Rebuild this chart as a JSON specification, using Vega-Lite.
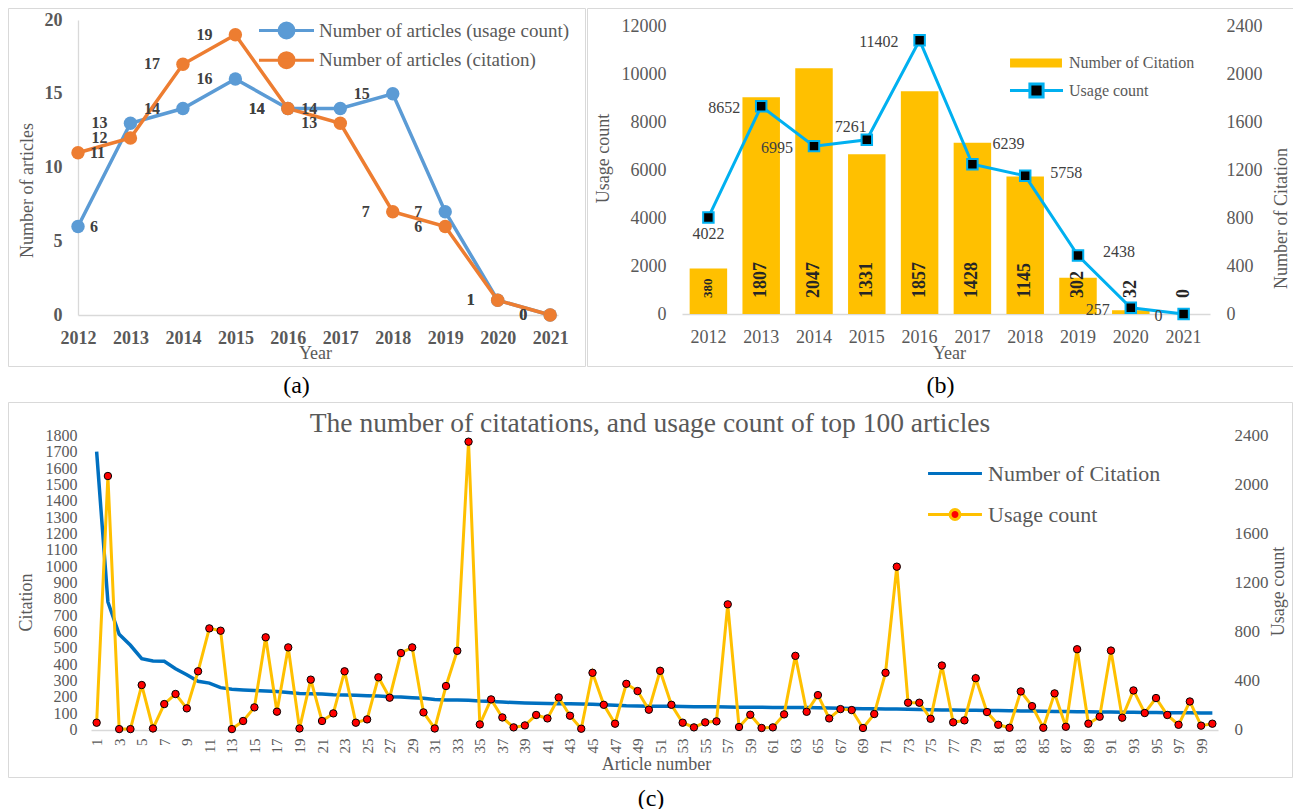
{
 "$schema": "https://vega.github.io/schema/vega-lite/v6.json",
 "padding": {"left": 7, "top": 7, "right": 0, "bottom": 0},
 "title": {"text": "(c)", "orient": "bottom", "anchor": "middle", "offset": 9, "baseline": "top", "fontSize": 24, "fontWeight": "normal", "color": "#000000", "font": "Liberation Serif"},
 "spacing": 2,
 "resolve": {"scale": {"color": "independent", "stroke": "independent", "fill": "independent"}, "legend": {"color": "independent", "stroke": "independent", "fill": "independent"}},
 "vconcat": [
  {
   "spacing": 0,
   "resolve": {"scale": {"color": "independent", "stroke": "independent", "fill": "independent"}, "legend": {"color": "independent", "stroke": "independent", "fill": "independent"}},
   "hconcat": [
    {
     "width": 577, "height": 358,
     "title": {"text": "(a)", "orient": "bottom", "frame": "group", "anchor": "middle", "offset": 8, "baseline": "top", "fontSize": 24, "fontWeight": "normal", "color": "#000000"},
     "data": {"values": [
      {"year": 2012, "series": "Number of articles (usage count)", "count": 6},
      {"year": 2013, "series": "Number of articles (usage count)", "count": 13},
      {"year": 2014, "series": "Number of articles (usage count)", "count": 14},
      {"year": 2015, "series": "Number of articles (usage count)", "count": 16},
      {"year": 2016, "series": "Number of articles (usage count)", "count": 14},
      {"year": 2017, "series": "Number of articles (usage count)", "count": 14},
      {"year": 2018, "series": "Number of articles (usage count)", "count": 15},
      {"year": 2019, "series": "Number of articles (usage count)", "count": 7},
      {"year": 2020, "series": "Number of articles (usage count)", "count": 1},
      {"year": 2021, "series": "Number of articles (usage count)", "count": 0},
      {"year": 2012, "series": "Number of articles (citation)", "count": 11},
      {"year": 2013, "series": "Number of articles (citation)", "count": 12},
      {"year": 2014, "series": "Number of articles (citation)", "count": 17},
      {"year": 2015, "series": "Number of articles (citation)", "count": 19},
      {"year": 2016, "series": "Number of articles (citation)", "count": 14},
      {"year": 2017, "series": "Number of articles (citation)", "count": 13},
      {"year": 2018, "series": "Number of articles (citation)", "count": 7},
      {"year": 2019, "series": "Number of articles (citation)", "count": 6},
      {"year": 2020, "series": "Number of articles (citation)", "count": 1},
      {"year": 2021, "series": "Number of articles (citation)", "count": 0}
     ]},
     "encoding": {
      "x": {"field": "year", "type": "quantitative",
            "scale": {"domain": [2012, 2021.15], "range": [70, 550], "nice": false, "zero": false},
            "axis": {"values": [2012, 2013, 2014, 2015, 2016, 2017, 2018, 2019, 2020, 2021], "format": "d", "offset": -51, "labelFontWeight": "bold", "labelPadding": 14, "labelFlush": false, "labelOverlap": false, "title": "Year", "titleX": 307, "titleY": 38, "titleBaseline": "middle"}},
      "y": {"field": "count", "type": "quantitative",
            "scale": {"domain": [0, 20], "range": [307, 12], "nice": false},
            "axis": {"values": [0, 5, 10, 15, 20], "offset": -70, "labelFontWeight": "bold", "labelPadding": 16, "labelOverlap": false, "title": "Number of articles", "titleX": -51, "titleY": 182, "titleBaseline": "middle"}},
      "color": {"field": "series", "type": "nominal",
            "scale": {"domain": ["Number of articles (usage count)", "Number of articles (citation)"], "range": ["#5B9BD5", "#ED7D31"]},
            "legend": {"orient": "none", "legendX": 251, "legendY": 10, "title": null,
                       "symbolType": "M-2.5,0L2.5,0M0.68,0A0.68,0.68 0 1 1 -0.68,0A0.68,0.68 0 1 1 0.68,0",
                       "symbolSize": 484, "symbolStrokeWidth": 3, "symbolOffset": 15, "labelOffset": 20, "labelFontSize": 19, "rowPadding": 2.7,
                       "encode": {"symbols": {"update": {"fill": {"signal": "datum.value === 'Number of articles (citation)' ? '#ED7D31' : '#5B9BD5'"}, "opacity": {"value": 1}}}}}}
     },
     "layer": [
      {"mark": {"type": "line", "strokeWidth": 3.5}},
      {"mark": {"type": "circle", "size": 180, "opacity": 1}},
      {"transform": [{"filter": "datum.year === 2012"}],
       "mark": {"type": "text", "align": "left", "baseline": "middle", "dx": 12, "fontSize": 16, "fontWeight": "bold"},
       "encoding": {"text": {"field": "count"}, "color": {"value": "#404040"}}},
      {"transform": [{"filter": "datum.year !== 2012"}],
       "mark": {"type": "text", "align": "right", "baseline": "middle", "dx": -23, "fontSize": 16, "fontWeight": "bold"},
       "encoding": {"text": {"field": "count"}, "color": {"value": "#404040"}}}
     ]
    },
    {
     "width": 707, "height": 358,
     "title": {"text": "(b)", "orient": "bottom", "frame": "group", "anchor": "middle", "offset": 8, "baseline": "top", "fontSize": 24, "fontWeight": "normal", "color": "#000000"},
     "data": {"values": [
      {"year": 2012, "citation": 380, "usage": 4022},
      {"year": 2013, "citation": 1807, "usage": 8652},
      {"year": 2014, "citation": 2047, "usage": 6995},
      {"year": 2015, "citation": 1331, "usage": 7261},
      {"year": 2016, "citation": 1857, "usage": 11402},
      {"year": 2017, "citation": 1428, "usage": 6239},
      {"year": 2018, "citation": 1145, "usage": 5758},
      {"year": 2019, "citation": 302, "usage": 2438},
      {"year": 2020, "citation": 32, "usage": 257},
      {"year": 2021, "citation": 0, "usage": 0}
     ]},
     "layer": [
      {"layer": [
       {"mark": {"type": "bar"},
        "encoding": {
         "x": {"field": "year", "type": "ordinal",
               "scale": {"range": [95, 623], "paddingInner": 0.29, "paddingOuter": 0.145},
               "axis": {"offset": -52, "labelAngle": 0, "labelPadding": 14, "title": "Year", "titleX": 362, "titleY": 39, "titleBaseline": "middle"}},
         "y": {"field": "citation", "type": "quantitative",
               "scale": {"domain": [0, 2400], "range": [306, 18], "nice": false},
               "axis": {"orient": "right", "offset": -84, "domain": false, "values": [0, 200, 400, 600, 800, 1000, 1200, 1400, 1600, 1800, 2000, 2200, 2400], "format": "d", "labelOverlap": false, "labelPadding": 16, "title": "Number of Citation", "titleAngle": 270, "titleX": 71, "titleY": 210, "titleBaseline": "middle"}},
         "fill": {"datum": "Number of Citation", "scale": {"range": ["#FFC000"]},
                  "legend": {"orient": "none", "legendX": 423, "legendY": 44, "title": null,
                             "symbolType": "M-2.36,-0.41L2.36,-0.41L2.36,0.41L-2.36,0.41Z",
                             "symbolSize": 484, "symbolOffset": 15, "labelOffset": 22, "labelFontSize": 16, "symbolStrokeWidth": 0}}
        }},
       {"mark": {"type": "text", "angle": 270, "align": "left", "baseline": "middle", "dx": 16, "fontWeight": "bold", "color": "#262626"},
        "encoding": {
         "x": {"field": "year", "type": "ordinal"},
         "y": {"datum": 0},
         "text": {"field": "citation"},
         "size": {"condition": {"test": "datum.year === 2012", "value": 13}, "value": 18}
        }}
      ]},
      {"layer": [
       {"mark": {"type": "line", "strokeWidth": 3},
        "encoding": {
         "x": {"field": "year", "type": "ordinal"},
         "y": {"field": "usage", "type": "quantitative",
               "scale": {"domain": [0, 12000], "range": [306, 18], "nice": false},
               "axis": {"orient": "left", "offset": -95, "domain": false, "values": [0, 1000, 2000, 3000, 4000, 5000, 6000, 7000, 8000, 9000, 10000, 11000, 12000], "format": "d", "labelOverlap": false, "labelPadding": 16, "title": "Usage count", "titleX": -79, "titleY": 150, "titleBaseline": "middle"}},
         "stroke": {"datum": "Usage count", "scale": {"range": ["#00B0F0"]},
                    "legend": {"orient": "none", "legendX": 423, "legendY": 70, "title": null,
                               "symbolType": "M-2.41,0L-0.6,0M0.6,0L2.41,0M-0.6,-0.6L0.6,-0.6L0.6,0.6L-0.6,0.6Z",
                               "symbolSize": 484, "symbolOffset": 14, "labelOffset": 20, "labelFontSize": 16, "symbolStrokeWidth": 3,
                               "encode": {"symbols": {"update": {"fill": {"value": "#000000"}, "opacity": {"value": 1}}}}}}
        }},
       {"mark": {"type": "square", "size": 110, "filled": true, "fill": "#000000", "stroke": "#00B0F0", "strokeWidth": 2, "opacity": 1},
        "encoding": {"x": {"field": "year", "type": "ordinal"}, "y": {"field": "usage", "type": "quantitative"}}},
       {"transform": [{"filter": "datum.year === 2012"}],
        "mark": {"type": "text", "align": "center", "baseline": "middle", "dy": 17, "fontSize": 16, "color": "#404040"},
        "encoding": {"x": {"field": "year", "type": "ordinal"}, "y": {"field": "usage", "type": "quantitative"}, "text": {"field": "usage"}}},
       {"transform": [{"filter": "datum.year === 2013 || datum.year === 2014 || datum.year === 2016 || datum.year === 2020 || datum.year === 2021"}],
        "mark": {"type": "text", "align": "right", "baseline": "middle", "dx": -21, "dy": 2, "fontSize": 16, "color": "#404040"},
        "encoding": {"x": {"field": "year", "type": "ordinal"}, "y": {"field": "usage", "type": "quantitative"}, "text": {"field": "usage"}}},
       {"transform": [{"filter": "datum.year === 2015"}],
        "mark": {"type": "text", "align": "right", "baseline": "middle", "dx": 0, "dy": -13, "fontSize": 16, "color": "#404040"},
        "encoding": {"x": {"field": "year", "type": "ordinal"}, "y": {"field": "usage", "type": "quantitative"}, "text": {"field": "usage"}}},
       {"transform": [{"filter": "datum.year === 2017"}],
        "mark": {"type": "text", "align": "left", "baseline": "middle", "dx": 20, "dy": -20, "fontSize": 16, "color": "#404040"},
        "encoding": {"x": {"field": "year", "type": "ordinal"}, "y": {"field": "usage", "type": "quantitative"}, "text": {"field": "usage"}}},
       {"transform": [{"filter": "datum.year === 2018 || datum.year === 2019"}],
        "mark": {"type": "text", "align": "left", "baseline": "middle", "dx": 25, "dy": -3, "fontSize": 16, "color": "#404040"},
        "encoding": {"x": {"field": "year", "type": "ordinal"}, "y": {"field": "usage", "type": "quantitative"}, "text": {"field": "usage"}}}
      ]}
     ],
     "resolve": {"scale": {"y": "independent"}}
    }
   ]
  },
  {
   "width": 1284, "height": 375,
   "title": {"text": "The number of citatations, and usage count of top 100 articles", "orient": "top", "frame": "group", "anchor": "middle", "offset": -49, "baseline": "middle", "fontSize": 27.5, "fontWeight": "normal", "color": "#595959"},
   "data": {"values": [
    {"article": 1, "citation": 1700, "usage": 57}, {"article": 2, "citation": 781, "usage": 2068}, {"article": 3, "citation": 583, "usage": 5}, {"article": 4, "citation": 516, "usage": 5}, {"article": 5, "citation": 434, "usage": 364},
    {"article": 6, "citation": 420, "usage": 10}, {"article": 7, "citation": 418, "usage": 209}, {"article": 8, "citation": 373, "usage": 291}, {"article": 9, "citation": 336, "usage": 174}, {"article": 10, "citation": 296, "usage": 476},
    {"article": 11, "citation": 285, "usage": 826}, {"article": 12, "citation": 257, "usage": 807}, {"article": 13, "citation": 247, "usage": 5}, {"article": 14, "citation": 243, "usage": 71}, {"article": 15, "citation": 239, "usage": 182},
    {"article": 16, "citation": 236, "usage": 753}, {"article": 17, "citation": 234, "usage": 147}, {"article": 18, "citation": 228, "usage": 671}, {"article": 19, "citation": 222, "usage": 10}, {"article": 20, "citation": 220, "usage": 408},
    {"article": 21, "citation": 218, "usage": 71}, {"article": 22, "citation": 214, "usage": 133}, {"article": 23, "citation": 212, "usage": 476}, {"article": 24, "citation": 210, "usage": 57}, {"article": 25, "citation": 208, "usage": 84},
    {"article": 26, "citation": 206, "usage": 427}, {"article": 27, "citation": 202, "usage": 261}, {"article": 28, "citation": 200, "usage": 625}, {"article": 29, "citation": 196, "usage": 671}, {"article": 30, "citation": 192, "usage": 141},
    {"article": 31, "citation": 185, "usage": 10}, {"article": 32, "citation": 182, "usage": 356}, {"article": 33, "citation": 181, "usage": 643}, {"article": 34, "citation": 180, "usage": 2348}, {"article": 35, "citation": 175, "usage": 43},
    {"article": 36, "citation": 172, "usage": 247}, {"article": 37, "citation": 169, "usage": 100}, {"article": 38, "citation": 166, "usage": 19}, {"article": 39, "citation": 163, "usage": 35}, {"article": 40, "citation": 161, "usage": 120},
    {"article": 41, "citation": 160, "usage": 92}, {"article": 42, "citation": 159, "usage": 263}, {"article": 43, "citation": 158, "usage": 114}, {"article": 44, "citation": 157, "usage": 8}, {"article": 45, "citation": 155, "usage": 464},
    {"article": 46, "citation": 152, "usage": 203}, {"article": 47, "citation": 149, "usage": 49}, {"article": 48, "citation": 146, "usage": 374}, {"article": 49, "citation": 145, "usage": 315}, {"article": 50, "citation": 144, "usage": 163},
    {"article": 51, "citation": 143, "usage": 480}, {"article": 52, "citation": 143, "usage": 203}, {"article": 53, "citation": 142, "usage": 57}, {"article": 54, "citation": 141, "usage": 19}, {"article": 55, "citation": 141, "usage": 60},
    {"article": 56, "citation": 140, "usage": 68}, {"article": 57, "citation": 139, "usage": 1022}, {"article": 58, "citation": 138, "usage": 22}, {"article": 59, "citation": 137, "usage": 122}, {"article": 60, "citation": 137, "usage": 14},
    {"article": 61, "citation": 136, "usage": 19}, {"article": 62, "citation": 136, "usage": 125}, {"article": 63, "citation": 135, "usage": 602}, {"article": 64, "citation": 135, "usage": 146}, {"article": 65, "citation": 134, "usage": 282},
    {"article": 66, "citation": 133, "usage": 92}, {"article": 67, "citation": 131, "usage": 168}, {"article": 68, "citation": 129, "usage": 160}, {"article": 69, "citation": 128, "usage": 14}, {"article": 70, "citation": 128, "usage": 128},
    {"article": 71, "citation": 127, "usage": 464}, {"article": 72, "citation": 126, "usage": 1329}, {"article": 73, "citation": 125, "usage": 220}, {"article": 74, "citation": 124, "usage": 220}, {"article": 75, "citation": 122, "usage": 89},
    {"article": 76, "citation": 121, "usage": 523}, {"article": 77, "citation": 120, "usage": 60}, {"article": 78, "citation": 119, "usage": 76}, {"article": 79, "citation": 119, "usage": 420}, {"article": 80, "citation": 118, "usage": 144},
    {"article": 81, "citation": 117, "usage": 40}, {"article": 82, "citation": 116, "usage": 16}, {"article": 83, "citation": 115, "usage": 312}, {"article": 84, "citation": 114, "usage": 192}, {"article": 85, "citation": 113, "usage": 16},
    {"article": 86, "citation": 112, "usage": 296}, {"article": 87, "citation": 111, "usage": 24}, {"article": 88, "citation": 110, "usage": 656}, {"article": 89, "citation": 109, "usage": 49}, {"article": 90, "citation": 108, "usage": 106},
    {"article": 91, "citation": 108, "usage": 645}, {"article": 92, "citation": 107, "usage": 98}, {"article": 93, "citation": 106, "usage": 320}, {"article": 94, "citation": 105, "usage": 136}, {"article": 95, "citation": 105, "usage": 258},
    {"article": 96, "citation": 104, "usage": 120}, {"article": 97, "citation": 103, "usage": 40}, {"article": 98, "citation": 103, "usage": 230}, {"article": 99, "citation": 102, "usage": 33}, {"article": 100, "citation": 102, "usage": 49}
   ]},
   "layer": [
    {"mark": {"type": "line", "strokeWidth": 3.5},
     "encoding": {
      "x": {"field": "article", "type": "ordinal",
            "scale": {"type": "point", "range": [83, 1210], "padding": 0.5},
            "axis": {"offset": -47, "labelAngle": 270, "labelExpr": "datum.value % 2 === 1 ? datum.label : ''", "labelFontSize": 15, "labelPadding": 8, "labelOverlap": false, "title": "Article number", "titleX": 648, "titleY": 34, "titleBaseline": "middle"}},
      "y": {"field": "citation", "type": "quantitative",
            "scale": {"domain": [0, 1800], "range": [327.7, 33.3], "nice": false},
            "axis": {"orient": "left", "offset": -83, "domain": false, "values": [0, 100, 200, 300, 400, 500, 600, 700, 800, 900, 1000, 1100, 1200, 1300, 1400, 1500, 1600, 1700, 1800], "format": "d", "labelOverlap": false, "labelFontSize": 16, "labelPadding": 14, "title": "Citation", "titleX": -65, "titleY": 200, "titleBaseline": "middle"}},
      "stroke": {"datum": "Number of Citation",
                 "scale": {"domain": ["Number of Citation", "Usage count"], "range": ["#0070C0", "#FFC000"]},
                 "legend": {"orient": "none", "legendX": 920, "legendY": 59, "title": null,
                            "symbolType": "M-2.45,0L2.45,0",
                            "symbolSize": 484, "symbolOffset": 14.5, "labelOffset": 20.5, "rowPadding": 17, "labelFontSize": 22, "symbolStrokeWidth": 3,
                            "encode": {"symbols": {"update": {
                              "shape": {"signal": "datum.value === 'Usage count' ? 'M-2.45,0L-0.5,0M0.5,0L2.45,0M0.45,0A0.45,0.45 0 1 1 -0.45,0A0.45,0.45 0 1 1 0.45,0' : 'M-2.45,0L2.45,0'"},
                              "fill": {"signal": "datum.value === 'Usage count' ? '#FF0000' : 'transparent'"},
                              "opacity": {"value": 1}}}}}}
     }},
    {"layer": [
     {"mark": {"type": "line", "strokeWidth": 3},
      "encoding": {
       "x": {"field": "article", "type": "ordinal"},
       "y": {"field": "usage", "type": "quantitative",
             "scale": {"domain": [0, 2400], "range": [327.7, 33.3], "nice": false},
             "axis": {"orient": "right", "offset": -74, "domain": false, "values": [0, 200, 400, 600, 800, 1000, 1200, 1400, 1600, 1800, 2000, 2200, 2400], "format": "d", "labelOverlap": false, "labelFontSize": 17, "labelPadding": 16, "title": "Usage count", "titleAngle": 270, "titleX": 60, "titleY": 189, "titleBaseline": "middle"}},
       "stroke": {"datum": "Usage count"}
      }},
     {"mark": {"type": "circle", "size": 55, "fill": "#FF0000", "stroke": "#000000", "strokeWidth": 1, "opacity": 1},
      "encoding": {"x": {"field": "article", "type": "ordinal"}, "y": {"field": "usage", "type": "quantitative"}}}
    ]}
   ],
   "resolve": {"scale": {"y": "independent"}}
  }
 ],
 "config": {
  "font": "Liberation Serif",
  "view": {"stroke": "#D9D9D9", "strokeWidth": 1},
  "axis": {"grid": false, "ticks": false, "domainColor": "#D9D9D9", "domainWidth": 1.3, "labelColor": "#595959", "titleColor": "#595959", "labelFontSize": 18, "titleFontSize": 18, "titleFontWeight": "normal", "labelFont": "Liberation Serif", "titleFont": "Liberation Serif"},
  "legend": {"padding": 0, "labelLimit": 600, "labelColor": "#595959", "labelFont": "Liberation Serif"},
  "title": {"font": "Liberation Serif"},
  "text": {"font": "Liberation Serif"}
 }
}
